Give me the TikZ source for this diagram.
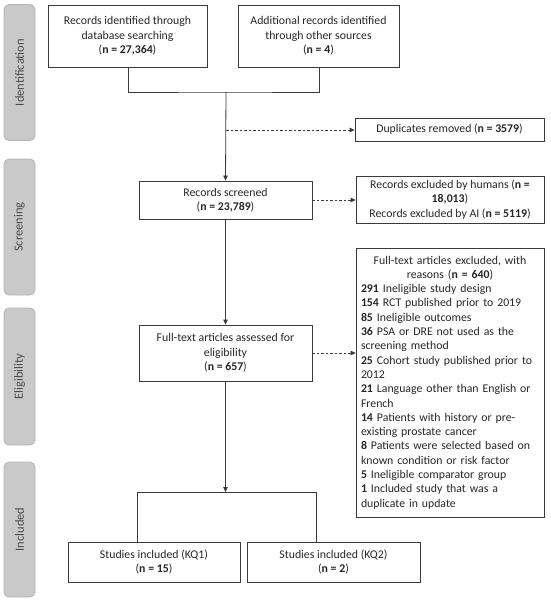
\documentclass[tikz,border=0pt]{standalone}
\usepackage{fontspec}
\setmainfont{Carlito}
\usetikzlibrary{arrows.meta}
\definecolor{txt}{HTML}{262626}
\definecolor{ln}{HTML}{3A3A3A}
\definecolor{barfill}{HTML}{C9C9C9}
\definecolor{barline}{HTML}{B5B5B5}
\definecolor{bartxt}{HTML}{4A4A4A}
\begin{document}
\begin{tikzpicture}[x=1pt,y=-1pt,
  font=\fontsize{11.8}{14.3}\selectfont,
  box/.style={draw=ln, line width=0.8pt, rectangle, text=txt, align=center, inner sep=2pt},
  bar/.style={draw=barline, fill=barfill, rounded corners=5pt, line width=0.8pt, minimum width=31pt, text=bartxt,
    font=\fontsize{12.5}{14}\selectfont},
  link/.style={draw=ln, line width=0.8pt},
  arr/.style={link, -{Triangle[length=5pt,width=4.5pt]}},
  darr/.style={arr, dashed, dash pattern=on 2.5pt off 2pt}
]
\useasboundingbox (0,0) rectangle (550,602);

% side bars
\node[bar, minimum height=136pt] (bid) at (19.5,72.5) {\rotatebox{90}{Identification}};
\node[bar, minimum height=136pt] (bsc) at (19.5,227) {\rotatebox{90}{Screening}};
\node[bar, minimum height=137pt] (bel) at (19.5,376.5) {\rotatebox{90}{Eligibility}};
\node[bar, minimum height=135pt] (bin) at (19.5,529.5) {\rotatebox{90}{Included}};

% boxes
\node[box, minimum width=159pt, minimum height=62pt] (id1) at (127.5,36)
  {Records identified through\\database searching\\(\textbf{n = 27,364})};
\node[box, minimum width=161pt, minimum height=62pt] (id2) at (318.5,36)
  {Additional records identified\\through other sources\\(\textbf{n = 4})};
\node[box, minimum width=189pt, minimum height=23pt] (dup) at (449.5,129.5)
  {Duplicates removed (\textbf{n = 3579})};
\node[box, minimum width=173pt, minimum height=38pt] (scr) at (225.5,200)
  {Records screened\\(\textbf{n = 23,789})};
\node[box, minimum width=188pt, minimum height=47pt] (ex1) at (450,199.5)
  {Records excluded by humans (\textbf{n =}\\\textbf{18,013})\\Records excluded by AI (\textbf{n = 5119})};
\node[box, minimum width=173pt, minimum height=56pt] (full) at (225.5,353)
  {Full-text articles assessed for\\eligibility\\(\textbf{n = 657})};
\node[draw=ln, line width=0.8pt, rectangle, text=txt, text width=178pt, inner xsep=5pt, inner ysep=4pt,
      minimum height=269pt] (ex2) at (450,382.5)
  {\centering Full-text articles excluded, with\\reasons (\textbf{n = 640})\par
   \raggedright
   \textbf{291} Ineligible study design\\
   \textbf{154} RCT published prior to 2019\\
   \textbf{85} Ineligible outcomes\\
   \textbf{36} PSA or DRE not used as the\\
   screening method\\
   \textbf{25} Cohort study published prior to\\
   2012\\
   \textbf{21} Language other than English or\\
   French\\
   \textbf{14} Patients with history or pre-\\
   existing prostate cancer\\
   \textbf{8} Patients were selected based on\\
   known condition or risk factor\\
   \textbf{5} Ineligible comparator group\\
   \textbf{1} Included study that was a\\
   duplicate in update\par};
\node[box, minimum width=172pt, minimum height=40pt] (kq1) at (154,562)
  {Studies included (KQ1)\\(\textbf{n = 15})};
\node[box, minimum width=173pt, minimum height=40pt] (kq2) at (333.5,562)
  {Studies included (KQ2)\\(\textbf{n = 2})};

% junction coordinates
\coordinate (j) at (226,92);
\coordinate (d) at (226,130);
\coordinate (sl) at (137,492);
\coordinate (sr) at (316,492);

% connectors
\draw[link] (id1.south -| 128,0) -- (128,92) -- (j) -- (319,92) -- (id2.south -| 319,0);
\draw[arr] (j) -- (scr.north);
\draw[darr] (d) -- (d -| dup.west);
\draw[darr] (scr.east) -- (scr.east -| ex1.west);
\draw[arr] (scr.south) -- (full.north);
\draw[darr] (full.east) -- (full.east -| ex2.west);
\draw[arr] (full.south) -- (full.south |- sl);
\draw[link] (kq1.north -| sl) -- (sl) -- (sr) -- (kq2.north -| sr);
\end{tikzpicture}
\end{document}
